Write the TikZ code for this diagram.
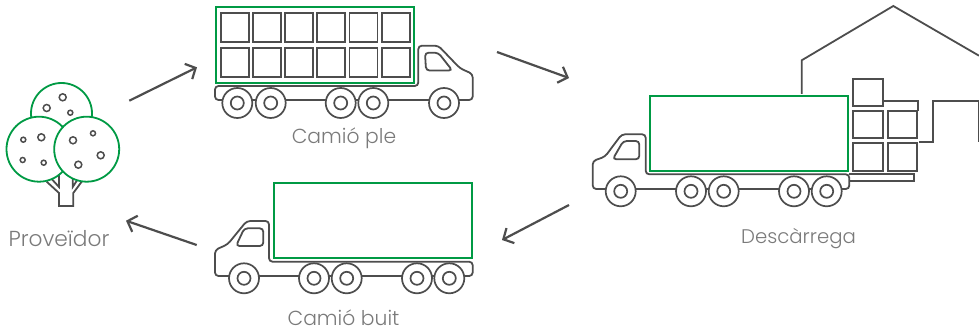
\documentclass[tikz,border=0pt]{standalone}
\usepackage{fontspec}
\setmainfont{Poppins Light}
\usepackage{tikz,pgffor}
\usetikzlibrary{arrows.meta}
\definecolor{linegray}{HTML}{4D4D4D}
\definecolor{leafgreen}{HTML}{009A44}
\definecolor{textgray}{HTML}{7A7A7A}
\tikzstyle{outline} = [
    draw=linegray,
    line width=1.8pt,
    rounded corners=3.5pt
]
\tikzstyle{plain} = [
    draw=linegray,
    line width=1.8pt
]
\tikzstyle{cargo} = [
    draw=leafgreen,
    line width=2pt
]
\tikzstyle{crate} = [
    draw=linegray,
    line width=1.9pt
]
\tikzstyle{wheel} = [
    circle,
    draw=linegray,
    line width=1.7pt,
    fill=white,
    inner sep=0pt,
    minimum size=30pt
]
\tikzstyle{hub} = [
    circle,
    draw=linegray,
    line width=1.7pt,
    inner sep=0pt,
    minimum size=13pt
]
\tikzstyle{crown} = [
    circle,
    draw=leafgreen,
    line width=1.8pt,
    fill=white,
    inner sep=0pt,
    minimum size=65pt
]
\tikzstyle{fruit} = [
    circle,
    draw=linegray,
    line width=1.5pt,
    inner sep=0pt,
    minimum size=6pt
]
\tikzstyle{tran} = [
    draw=linegray,
    line width=2.2pt,
    -{Straight Barb[length=8pt,width=17pt]}
]
\tikzstyle{caption} = [
    text=textgray,
    font=\fontsize{20.3}{24}\selectfont,
    inner sep=0pt
]

\begin{document}
\begin{tikzpicture}[x=1pt,y=-1pt]
\useasboundingbox (0,0) rectangle (979,331);

% tree
\draw[plain] (46.7,181.7) -- (59,193) -- (59,206) -- (73.3,206) -- (73.3,193) -- (81.7,181.7);
\draw[plain] (51.7,179) -- (59,187) -- (59,175);
\draw[plain] (72.7,175) -- (72.7,187) -- (77.3,180);
\node[crown,minimum size=61pt] (crownTop)   at (61.5,113.5) {};
\node[crown] (crownLeft)  at (39,149.2) {};
\node[crown] (crownRight) at (86.7,149.2) {};
\foreach \fx/\fy/\fs in {62.7/97.3/7, 46.7/108/7, 70.3/112.7/5,
                         23.3/139.7/5, 41.3/137.3/7, 22.7/160/5, 43.7/162.7/5,
                         73/140.3/7, 93/133.3/5, 100.7/155.3/7, 78.3/164.7/7}
    \node[fruit,minimum size=\fs pt] at (\fx,\fy) {};
\node[caption,font=\fontsize{21.7}{24}\selectfont] (proveidor) at (59,239) {Proveïdor};

% full truck
\draw[outline] (215,86) -- (418.3,86) -- (418.3,45.7) -- (438.3,45.7) -- (460,68.3)
    -- (472.7,74) -- (472.7,100) -- (215,100) -- cycle;
\draw[outline] (425,52.7) -- (438.3,52.7) -- (452.3,70.5) -- (426,70.5) -- cycle;
\foreach \wx in {237.3,270.7,340.7,373.3,444} {
    \node[wheel] at (\wx,103) {};
    \node[hub]   at (\wx,103) {};
}
\foreach \bx in {220.7,252.9,285.1,317.3,349.5,381.7} {
    \draw[crate] (\bx,13.3) rectangle ++(28,29);
    \draw[crate] (\bx,47.7) rectangle ++(28,29.5);
}
\draw[cargo] (216,7.3) rectangle (414,82.7);
\node[caption] (full) at (344,138) {Camió ple};

% empty truck
\draw[outline] (472.7,261.7) -- (269,261.7) -- (269,221) -- (246.7,221) -- (227.7,244.3)
    -- (215,250) -- (215,276) -- (472.7,276) -- cycle;
\draw[outline] (244.3,228.3) -- (263.3,228.3) -- (263.3,246) -- (236,246) -- cycle;
\foreach \wx in {244,314,346.7,417,449.3} {
    \node[wheel] at (\wx,278.3) {};
    \node[hub]   at (\wx,278.3) {};
}
\draw[cargo] (273.7,183.3) rectangle (471.7,258.3);
\node[caption] (empty) at (343.5,318) {Camió buit};

% warehouse
\draw[plain] (801.7,94) -- (801.7,60.3) -- (893.3,6) -- (979,55.7);
\draw[plain] (919.3,142.3) -- (933.3,142.3) -- (933.3,101.3) -- (979,101.3) -- (979,142.3);
\draw[plain] (882.7,101.3) -- (918,101.3) -- (918,111);

% unloading truck
\draw[plain] (849.3,180.7) -- (914.3,180.7) -- (914.3,174.3) -- (849.3,174.3);
\draw[outline] (849.3,174.3) -- (645.7,174.3) -- (645.7,134.3) -- (621.7,134.3) -- (605,156.7)
    -- (592.7,161) -- (592.7,189) -- (849.3,189) -- cycle;
\draw[outline] (623.3,141) -- (639.3,141) -- (639.3,159.3) -- (612.7,159.3) -- cycle;
\foreach \wx in {620.7,691,723.7,794,826.7} {
    \node[wheel] at (\wx,191.3) {};
    \node[hub]   at (\wx,191.3) {};
}
\foreach \bx/\by/\bh in {853.3/79/27, 853.3/111/27.3, 887.7/111/27.3, 853.3/143.3/27.4, 887.7/143.3/27.4}
    \draw[crate,fill=white] (\bx,\by) rectangle ++(29.5,\bh);
\draw[cargo] (650.3,96.3) rectangle (848.3,170.7);
\node[caption,font=\fontsize{19.7}{24}\selectfont] (unload) at (798.5,239) {Descàrrega};

% arrows
\coordinate (a1) at (129.3,100.7);
\coordinate (a2) at (197,67.3);
\coordinate (b1) at (497,52);
\coordinate (b2) at (569,78);
\coordinate (c1) at (569,205);
\coordinate (c2) at (502,240);
\coordinate (d1) at (196.7,245);
\coordinate (d2) at (126,220.7);
\draw[tran] (a1) -- (a2);
\draw[tran] (b1) -- (b2);
\draw[tran] (c1) -- (c2);
\draw[tran] (d1) -- (d2);
\end{tikzpicture}
\end{document}
